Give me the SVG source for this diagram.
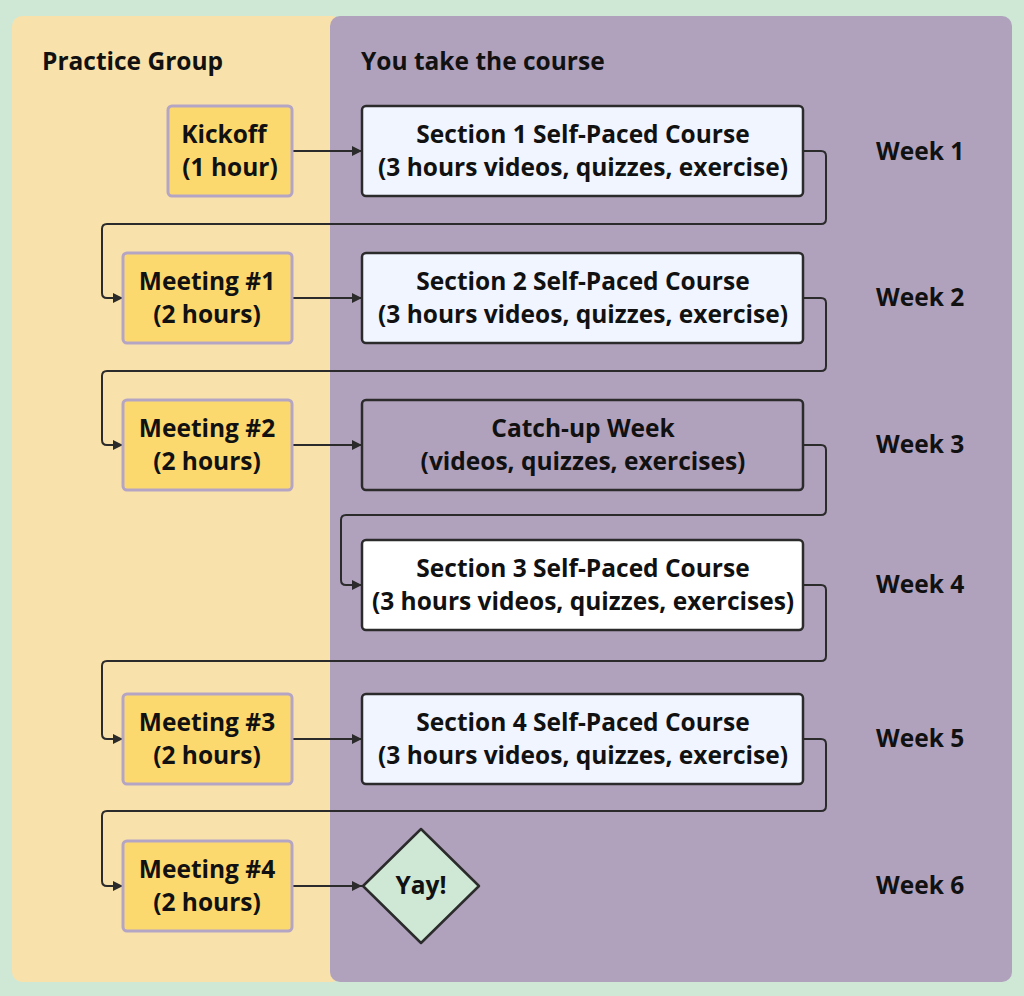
<svg xmlns="http://www.w3.org/2000/svg" width="1024" height="996" viewBox="0 0 1024 996">
<style>
text{font-family:"Open Sans","Liberation Sans",sans-serif;font-weight:700;font-size:24.5px;fill:#111;text-anchor:middle}
.h{text-anchor:start}
.y{fill:#fcd96f;stroke:#b5a5c5;stroke-width:3}
.s{fill:#f0f5ff;stroke:#2b2b2b;stroke-width:2.5}
.c{fill:none;stroke:#2b2b2b;stroke-width:2;stroke-linejoin:round}
</style>
<defs><marker id="a" viewBox="0 0 10 10" refX="10" refY="5" markerWidth="10" markerHeight="10" markerUnits="userSpaceOnUse" orient="auto"><path d="M0,0L10,5L0,10z" fill="#2b2b2b"/></marker></defs>
<rect width="1024" height="996" fill="#cfe8d6"/>
<rect x="12" y="16" width="330" height="966" rx="10" fill="#f8e1ab"/>
<rect x="330" y="16" width="682" height="966" rx="10" fill="#b0a2bd"/>
<text class="h" x="42" y="70">Practice Group</text>
<text class="h" x="361" y="70">You take the course</text>
<g id="connectors">
<path class="c" marker-end="url(#a)" d="M292,151H362"/>
<path class="c" marker-end="url(#a)" d="M292,298H362"/>
<path class="c" marker-end="url(#a)" d="M292,445H362"/>
<path class="c" marker-end="url(#a)" d="M292,739H362"/>
<path class="c" marker-end="url(#a)" d="M292,886H362"/>
<path class="c" marker-end="url(#a)" d="M803,151H821q5,0 5,5V219q0,5-5,5H107q-5,0-5,5V293q0,5 5,5H123"/>
<path class="c" marker-end="url(#a)" d="M803,298H821q5,0 5,5V366q0,5-5,5H107q-5,0-5,5V440q0,5 5,5H123"/>
<path class="c" marker-end="url(#a)" d="M803,445H821q5,0 5,5V510q0,5-5,5H346q-5,0-5,5V580q0,5 5,5H362"/>
<path class="c" marker-end="url(#a)" d="M803,585H821q5,0 5,5V656q0,5-5,5H107q-5,0-5,5V734q0,5 5,5H123"/>
<path class="c" marker-end="url(#a)" d="M803,739H821q5,0 5,5V806q0,5-5,5H107q-5,0-5,5V881q0,5 5,5H123"/>
</g>
<g id="kickoff"><rect class="y" x="168" y="106" width="124" height="90" rx="4"/><text x="224" y="143">Kickoff</text><text x="230" y="176">(1 hour)</text></g>
<g id="m1"><rect class="y" x="123" y="253" width="169" height="90" rx="4"/><text x="207" y="290">Meeting #1</text><text x="207" y="323">(2 hours)</text></g>
<g id="m2"><rect class="y" x="123" y="400" width="169" height="90" rx="4"/><text x="207" y="437">Meeting #2</text><text x="207" y="470">(2 hours)</text></g>
<g id="m3"><rect class="y" x="123" y="694" width="169" height="90" rx="4"/><text x="207" y="731">Meeting #3</text><text x="207" y="764">(2 hours)</text></g>
<g id="m4"><rect class="y" x="123" y="841" width="169" height="90" rx="4"/><text x="207" y="878">Meeting #4</text><text x="207" y="911">(2 hours)</text></g>
<g id="s1"><rect class="s" x="362" y="106" width="441" height="90" rx="4"/><text x="583" y="143">Section 1 Self-Paced Course</text><text x="583" y="176">(3 hours videos, quizzes, exercise)</text></g>
<g id="s2"><rect class="s" x="362" y="253" width="441" height="90" rx="4"/><text x="583" y="290">Section 2 Self-Paced Course</text><text x="583" y="323">(3 hours videos, quizzes, exercise)</text></g>
<g id="cu"><rect class="s" style="fill:#b0a2bd" x="362" y="400" width="441" height="90" rx="4"/><text x="583" y="437">Catch-up Week</text><text x="583" y="470">(videos, quizzes, exercises)</text></g>
<g id="s3"><rect class="s" style="fill:#fff" x="362" y="540" width="441" height="90" rx="4"/><text x="583" y="577">Section 3 Self-Paced Course</text><text x="583" y="610">(3 hours videos, quizzes, exercises)</text></g>
<g id="s4"><rect class="s" x="362" y="694" width="441" height="90" rx="4"/><text x="583" y="731">Section 4 Self-Paced Course</text><text x="583" y="764">(3 hours videos, quizzes, exercise)</text></g>
<g id="yay"><path d="M421,829L479,886L421,943L363,886Z" fill="#cfe8d6" stroke="#2b2b2b" stroke-width="2.5" stroke-linejoin="round"/><text x="421" y="894">Yay!</text></g>
<g id="weeks">
<text class="h" x="876" y="160">Week 1</text>
<text class="h" x="876" y="306">Week 2</text>
<text class="h" x="876" y="453">Week 3</text>
<text class="h" x="876" y="593">Week 4</text>
<text class="h" x="876" y="747">Week 5</text>
<text class="h" x="876" y="894">Week 6</text>
</g>
</svg>
